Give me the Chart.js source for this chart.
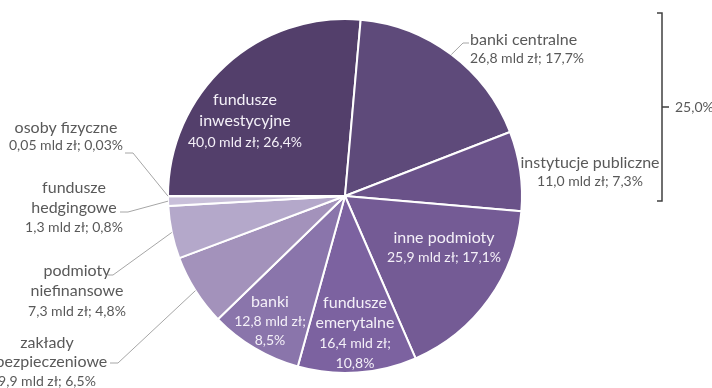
<!DOCTYPE html>
<html lang="pl">
<head>
<meta charset="utf-8">
<title>Struktura inwestorów</title>
<script src="https://cdn.jsdelivr.net/npm/chart.js@4.4.1/dist/chart.umd.min.js"></script>
<style>
  html, body { margin: 0; padding: 0; background: #ffffff; }
  #wrap { width: 712px; height: 388px; }
</style>
</head>
<body>
<div id="wrap"><canvas id="investorChart" width="712" height="388"></canvas></div>
<script>
// holders, in the order the slices run clockwise from 9 o'clock
const categories = [
    'fundusze inwestycyjne',
    'banki centralne',
    'instytucje publiczne',
    'inne podmioty',
    'fundusze emerytalne',
    'banki',
    'zakłady ubezpieczeniowe',
    'podmioty niefinansowe',
    'fundusze hedgingowe',
    'osoby fizyczne'
];
// holdings, mld zł
const amounts = [40.0, 26.8, 11.0, 25.9, 16.4, 12.8, 9.9, 7.3, 1.3, 0.05];
// share of total, %
const shares = [26.4, 17.7, 7.3, 17.1, 10.8, 8.5, 6.5, 4.8, 0.8, 0.03];
// slices summed by the bracket on the right
const bracketGroup = [1, 2];

const sliceColors = [
    '#533f6b', '#5e4a7a', '#6a5289', '#745b95', '#7c62a0',
    '#8a75ab', '#a392bb', '#b4a8ca', '#c8bfd9', '#ddd7e7'
];

const GREY = '#595959';
const LIGHT = '#f4f0f8';
const NAME_FONT = '16px Lato';
const VALUE_FONT = '14px Lato';

// label placement relative to the pie centre; elbow = [x, y, xEnd] of leader line
const labelLayout = [
    { x: -100, y: -96, gap: 21, color: LIGHT, wrap: true },
    { x: 125, y: -156, gap: 18, color: GREY, align: 'left', elbow: [118, -153, 124] },
    { x: 245, y: -33, gap: 18, color: GREY },
    { x: 99, y: 42, gap: 19, color: LIGHT },
    { x: 10, y: 107, gap: 20, color: LIGHT, wrap: true, splitValue: true },
    { x: -75, y: 106, gap: 19, color: LIGHT, splitValue: true },
    { x: -298, y: 147, gap: 19, color: GREY, wrap: true, elbow: [-227, 167, -235] },
    { x: -268, y: 75, gap: 20, color: GREY, wrap: true, elbow: [-232, 79, -237] },
    { x: -271, y: -8, gap: 19.5, color: GREY, wrap: true, elbow: [-217, 16, -225] },
    { x: -279, y: -68, gap: 17, color: GREY, elbow: [-212, -43, -220] }
];

function plNum(v) {
    return v.toFixed(v < 0.1 ? 2 : 1).replace('.', ',');
}

function labelLines(i) {
    const lay = labelLayout[i];
    const names = lay.wrap ? categories[i].split(' ') : [categories[i]];
    const lines = names.map(t => ({ text: t, font: NAME_FONT }));
    const amount = plNum(amounts[i]) + ' mld zł;';
    const share = plNum(shares[i]) + '%';
    if (lay.splitValue) {
        lines.push({ text: amount, font: VALUE_FONT });
        lines.push({ text: share, font: VALUE_FONT });
    } else {
        lines.push({ text: amount + ' ' + share, font: VALUE_FONT });
    }
    return lines;
}

const sliceLabels = {
    id: 'sliceLabels',
    afterDatasetsDraw(chart) {
        const ctx = chart.ctx;
        const arcs = chart.getDatasetMeta(0).data;
        const cx = arcs[0].x;
        const cy = arcs[0].y;
        ctx.save();

        arcs.forEach((arc, i) => {
            const lay = labelLayout[i];
            if (lay.elbow) {
                const mid = (arc.startAngle + arc.endAngle) / 2;
                const r = arc.outerRadius;
                ctx.beginPath();
                ctx.strokeStyle = '#a6a6a6';
                ctx.lineWidth = 1;
                ctx.moveTo(cx + r * Math.cos(mid), cy + r * Math.sin(mid));
                ctx.lineTo(cx + lay.elbow[0], cy + lay.elbow[1]);
                ctx.lineTo(cx + lay.elbow[2], cy + lay.elbow[1]);
                ctx.stroke();
            }
            ctx.fillStyle = lay.color;
            ctx.textAlign = lay.align || 'center';
            ctx.textBaseline = 'middle';
            labelLines(i).forEach((ln, k) => {
                ctx.font = ln.font;
                ctx.fillText(ln.text, cx + lay.x, cy + lay.y + k * lay.gap);
            });
        });

        // bracket over banki centralne + instytucje publiczne
        const bx = cx + 317, top = cy - 183, bottom = cy + 5, mid = cy - 89;
        ctx.beginPath();
        ctx.strokeStyle = '#404040';
        ctx.lineWidth = 1.5;
        ctx.moveTo(bx - 5, top);
        ctx.lineTo(bx, top);
        ctx.lineTo(bx, bottom);
        ctx.lineTo(bx - 5, bottom);
        ctx.moveTo(bx, mid);
        ctx.lineTo(bx + 7, mid);
        ctx.stroke();

        const groupShare = bracketGroup.reduce((s, i) => s + shares[i], 0);
        ctx.fillStyle = GREY;
        ctx.textAlign = 'left';
        ctx.font = VALUE_FONT;
        ctx.fillText(plNum(groupShare) + '%', bx + 13, mid);
        ctx.restore();
    }
};

new Chart(document.getElementById('investorChart').getContext('2d'), {
    type: 'pie',
    data: {
        labels: categories,
        datasets: [{
            data: amounts,
            backgroundColor: sliceColors,
            borderColor: '#ffffff',
            borderWidth: 2
        }]
    },
    options: {
        responsive: false,
        animation: false,
        rotation: 270,
        layout: {
            padding: { left: 167, right: 189, top: 18, bottom: 14 }
        },
        plugins: {
            legend: { display: false },
            tooltip: { enabled: false }
        }
    },
    plugins: [sliceLabels]
});
</script>
</body>
</html>
